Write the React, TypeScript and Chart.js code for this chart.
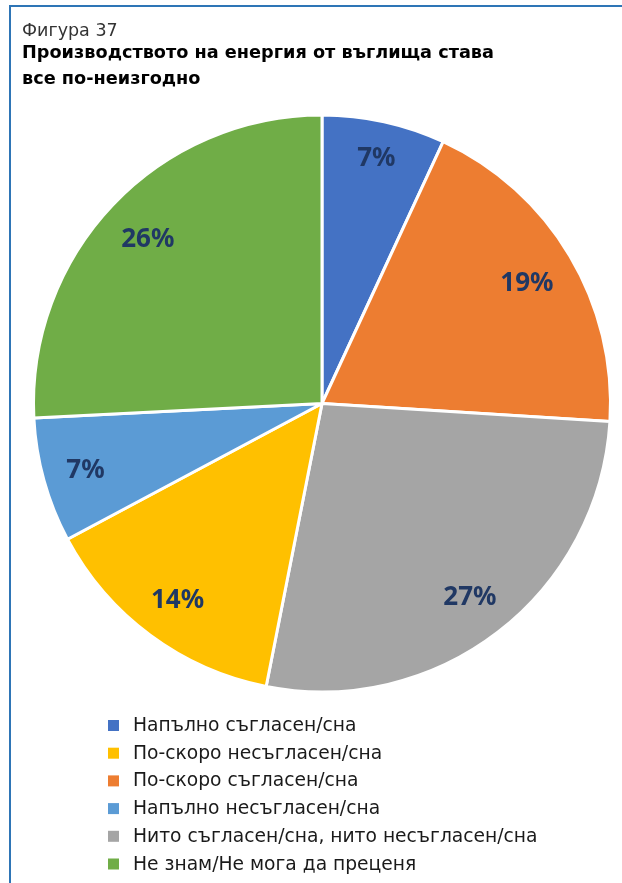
import React, { useEffect, useRef } from 'react';
import { Chart, registerables } from 'chart.js';

Chart.register(...registerables);

// ---- data ----
const categories = [
  'Напълно съгласен/сна',
  'По-скоро съгласен/сна',
  'Нито съгласен/сна, нито несъгласен/сна',
  'По-скоро несъгласен/сна',
  'Напълно несъгласен/сна',
  'Не знам/Не мога да преценя',
];
const values = [6.9, 19.1, 27.1, 14.1, 7.0, 25.8];
const colors = ['#4472C4', '#ED7D31', '#A5A5A5', '#FFC000', '#5B9BD5', '#70AD47'];
const legendOrder = [0, 3, 1, 4, 2, 5];
const titleText = 'Фигура 37';
const subtitleLines = ['Производството на енергия от въглища става', 'все по-неизгодно'];

const FONT = '"Noto Sans", "Open Sans", sans-serif';
const WIDE = '"DejaVu Sans", "Noto Sans", sans-serif';

const framePlugin = {
  id: 'frame',
  beforeDraw(chart: any) {
    const ctx = chart.ctx;
    ctx.save();
    ctx.fillStyle = '#2E75B6';
    ctx.fillRect(9, 5, chart.width - 9, 2);
    ctx.fillRect(9, 5, 2, chart.height - 5);
    ctx.restore();
  },
};

const pctLabels = {
  id: 'pctLabels',
  afterDatasetsDraw(chart: any) {
    const meta = chart.getDatasetMeta(0);
    const ctx = chart.ctx;
    ctx.save();
    ctx.font = `bold 26px ${FONT}`;
    ctx.fillStyle = '#203864';
    ctx.textAlign = 'center';
    ctx.textBaseline = 'middle';
    meta.data.forEach((arc: any, i: number) => {
      const p = arc.getProps(['x', 'y', 'startAngle', 'endAngle', 'outerRadius'], true);
      const mid = (p.startAngle + p.endAngle) / 2;
      const text = Math.round(values[i]) + '%';
      const hw = ctx.measureText(text).width / 2;
      const hh = 10;
      const r = p.outerRadius - 22 - (hw * Math.abs(Math.cos(mid)) + hh * Math.abs(Math.sin(mid)));
      ctx.fillText(text, p.x + r * Math.cos(mid), p.y + r * Math.sin(mid) + 2);
    });
    ctx.restore();
  },
};

const customLegend = {
  id: 'customLegend',
  afterDraw(chart: any) {
    const ctx = chart.ctx;
    const base0 = chart.chartArea.bottom + 37.5;
    const step = 27.7;
    ctx.save();
    ctx.font = `18.7px ${WIDE}`;
    ctx.textAlign = 'left';
    ctx.textBaseline = 'alphabetic';
    legendOrder.forEach((idx, row) => {
      const y = base0 + row * step;
      ctx.fillStyle = colors[idx];
      ctx.fillRect(108, y - 11, 11, 11);
      ctx.fillStyle = '#1a1a1a';
      ctx.fillText(categories[idx], 133, y);
    });
    ctx.restore();
  },
};

export default function App() {
  const canvasRef = useRef<HTMLCanvasElement | null>(null);

  useEffect(() => {
    if (!canvasRef.current) return;
    const chart = new Chart(canvasRef.current, {
      type: 'pie',
      data: {
        labels: categories,
        datasets: [
          {
            data: values,
            backgroundColor: colors,
            borderColor: '#ffffff',
            borderWidth: 3,
          },
        ],
      },
      options: {
        responsive: true,
        maintainAspectRatio: false,
        animation: false,
        layout: { padding: { top: 0, left: 22, right: 0, bottom: 189.5 } },
        plugins: {
          legend: { display: false },
          tooltip: { enabled: false },
          title: {
            display: true,
            text: titleText,
            align: 'start',
            color: '#333333',
            font: { family: WIDE, size: 17.5, weight: 'normal', lineHeight: '14px' },
            padding: { top: 24, bottom: 2 },
          },
          subtitle: {
            display: true,
            text: subtitleLines,
            align: 'start',
            color: '#000000',
            font: { family: WIDE, size: 17.7, weight: 'bold', lineHeight: '26px' },
            padding: { top: 0, bottom: 21.5 },
          },
        },
      },
      plugins: [framePlugin, pctLabels, customLegend],
    });
    return () => chart.destroy();
  }, []);

  return (
    <div style={{ position: 'absolute', left: 0, top: 0, width: 622, height: 883, background: '#fff' }}>
      <canvas ref={canvasRef} />
    </div>
  );
}
